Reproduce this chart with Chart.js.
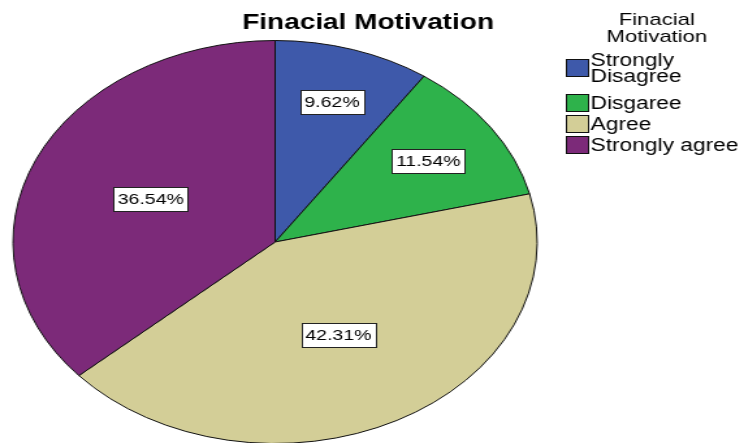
<!DOCTYPE html>
<html>
<head>
<meta charset="utf-8">
<script src="https://cdn.jsdelivr.net/npm/chart.js@4"></script>
<style>
html, body { margin: 0; padding: 0; background: #fff; overflow: hidden; }
#wrap { width: 744px; height: 443px; overflow: hidden; }
/* the reference is a horizontally stretched SPSS chart */
#inner { width: 572px; height: 444px; transform: scaleX(1.3007); transform-origin: 0 0; }
</style>
</head>
<body>
<div id="wrap"><div id="inner"><canvas id="pie" width="572" height="444"></canvas></div></div>
<script>
const chartTitle = 'Finacial Motivation';
const legendTitle = ['Finacial', 'Motivation'];
const categories = [['Strongly', 'Disagree'], ['Disgaree'], ['Agree'], ['Strongly agree']];
const percents = [9.62, 11.54, 42.31, 36.54];
const sliceColors = ['#3e59aa', '#2eb24b', '#d3ce97', '#7c2a79'];

const FONT = '"Liberation Sans", Arial, sans-serif';
const labelRadius = [0.73, 0.71, 0.52, 0.52];

const sliceLabels = {
	id: 'sliceLabels',
	afterDatasetsDraw(chart) {
		const ctx = chart.ctx;
		const meta = chart.getDatasetMeta(0);
		ctx.save();
		ctx.font = '15px ' + FONT;
		ctx.textAlign = 'center';
		ctx.textBaseline = 'middle';
		meta.data.forEach((arc, i) => {
			const p = arc.getProps(['x', 'y', 'startAngle', 'endAngle', 'outerRadius'], true);
			const mid = (p.startAngle + p.endAngle) / 2;
			const r = p.outerRadius * labelRadius[i];
			const lx = p.x + Math.cos(mid) * r;
			const ly = p.y + Math.sin(mid) * r;
			const text = percents[i].toFixed(2) + '%';
			const w = Math.round(ctx.measureText(text).width + 6);
			const h = 24;
			const bx = Math.round(lx - w / 2) + 0.5;
			const by = Math.round(ly - h / 2) + 0.5;
			ctx.fillStyle = '#fff';
			ctx.fillRect(bx, by, w, h);
			ctx.strokeStyle = '#222';
			ctx.lineWidth = 1;
			ctx.strokeRect(bx, by, w, h);
			ctx.fillStyle = '#000';
			ctx.fillText(text, lx, ly + 1);
		});
		ctx.restore();
	}
};

const titleAndLegend = {
	id: 'titleAndLegend',
	afterDraw(chart) {
		const ctx = chart.ctx;
		ctx.save();
		ctx.fillStyle = '#000';
		ctx.textAlign = 'center';
		ctx.textBaseline = 'alphabetic';
		ctx.font = 'bold 21.5px ' + FONT;
		ctx.fillText(chartTitle, 283, 29);

		ctx.font = '17px ' + FONT;
		legendTitle.forEach((line, i) => ctx.fillText(line, 505, 25 + i * 16.5));

		ctx.textAlign = 'left';
		ctx.font = '17.5px ' + FONT;
		let y = 59;
		categories.forEach((lines, i) => {
			ctx.fillStyle = sliceColors[i];
			ctx.fillRect(435.5, y + 0.5, 17, 17);
			ctx.strokeStyle = '#111';
			ctx.lineWidth = 1;
			ctx.strokeRect(435.5, y + 0.5, 17, 17);
			ctx.fillStyle = '#000';
			lines.forEach((t, j) => {
				ctx.fillText(t, 454, y + 15 + (j - (lines.length - 1) / 2) * 16.7);
			});
			y += 21 + (lines.length - 1) * 14;
		});
		ctx.restore();
	}
};

new Chart(document.getElementById('pie').getContext('2d'), {
	type: 'pie',
	data: {
		labels: categories.map((c) => c.join(' ')),
		datasets: [{
			data: percents,
			backgroundColor: sliceColors,
			borderColor: '#111',
			borderWidth: 1
		}]
	},
	options: {
		responsive: false,
		animation: false,
		layout: {
			padding: { top: 40, left: 9.5, right: 158.5, bottom: 0 }
		},
		plugins: {
			legend: { display: false },
			tooltip: { enabled: false },
			title: { display: false }
		}
	},
	plugins: [sliceLabels, titleAndLegend]
});
</script>
</body>
</html>
